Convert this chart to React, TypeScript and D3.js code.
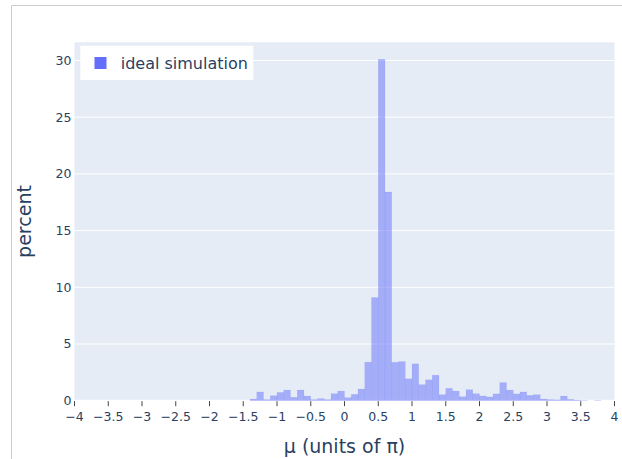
import * as d3 from 'd3';

// histogram bins (width 0.1), left edge in units of pi
const binStart = [
  -1.4, -1.3, -1.2, -1.1, -1.0, -0.9, -0.8, -0.7, -0.6, -0.5, -0.4, -0.3, -0.2, -0.1,
  0.0, 0.1, 0.2, 0.3, 0.4, 0.5, 0.6, 0.7, 0.8, 0.9, 1.0, 1.1, 1.2, 1.3, 1.4,
  1.5, 1.6, 1.7, 1.8, 1.9, 2.0, 2.1, 2.2, 2.3, 2.4, 2.5, 2.6, 2.7, 2.8, 2.9,
  3.0, 3.1, 3.2, 3.3, 3.4, 3.5, 3.6, 3.7,
];
const percent = [
  0.15, 0.77, 0.10, 0.44, 0.73, 0.94, 0.30, 0.94, 0.41, 0.10, 0.18, 0.10, 0.62, 0.85,
  0.27, 0.56, 1.03, 3.40, 9.10, 30.10, 18.40, 3.39, 3.45, 1.93, 3.25, 1.41, 1.84, 2.25, 0.53,
  1.09, 0.85, 0.35, 0.97, 0.62, 0.42, 0.33, 0.60, 1.60, 0.94, 0.60, 0.77, 0.47, 0.53, 0.15,
  0.10, 0.08, 0.41, 0.12, 0.06, 0.03, 0, 0.03,
];
const binWidth = 0.1;

const xTicks = [-4, -3.5, -3, -2.5, -2, -1.5, -1, -0.5, 0, 0.5, 1, 1.5, 2, 2.5, 3, 3.5, 4];
const yTicks = [0, 5, 10, 15, 20, 25, 30];
const seriesName = 'ideal simulation';

const W = 622, H = 459;
const m = { l: 74.5, r: 614.5, t: 42.3, b: 400.7 };
const barColor = '#636efa';
const textColor = '#2a3f5f';
const font = '"DejaVu Sans", Verdana, sans-serif';

const fmt = (v: number) => (v < 0 ? '\u2212' + Math.abs(v) : String(v));

export default function App() {
  const x = d3.scaleLinear().domain([-4, 4]).range([m.l, m.r]);
  const y = d3.scaleLinear().domain([0, 31.6]).range([m.b, m.t]);

  return (
    <svg width={W} height={H} viewBox={`0 0 ${W} ${H}`}
      style={{ position: 'fixed', left: 0, top: 0, display: 'block', background: '#fff' }}>
      {/* outer frame */}
      <line x1={11.5} x2={11.5} y1={5.5} y2={H} stroke="#cccccc" strokeWidth={1} />
      <line x1={11.5} x2={W} y1={5.5} y2={5.5} stroke="#cccccc" strokeWidth={1} />

      {/* plot background */}
      <rect x={m.l} y={m.t} width={m.r - m.l} height={m.b - m.t} fill="#e5ecf6" />

      {/* grid */}
      {yTicks.filter(v => v > 0).map(v => (
        <line key={v} x1={m.l} x2={m.r} y1={y(v)} y2={y(v)} stroke="#fff" strokeWidth={1} />
      ))}
      <line x1={m.l} x2={m.r} y1={y(0)} y2={y(0)} stroke="#fff" strokeWidth={2} />

      {/* bars */}
      {binStart.map((s, i) => (
        percent[i] > 0 ? (
          <rect key={i} x={x(s)} width={x(s + binWidth) - x(s)} y={y(percent[i])}
            height={y(0) - y(percent[i])} fill={barColor} fillOpacity={0.5}
            stroke={barColor} strokeOpacity={0.15} strokeWidth={0.5} />
        ) : null
      ))}

      {/* x ticks */}
      {xTicks.map(v => (
        <g key={v}>
          <line x1={x(v)} x2={x(v)} y1={m.b + 0.5} y2={m.b + 5.5} stroke="#444" strokeWidth={1} />
          <text x={x(v)} y={m.b + 20.5} textAnchor="middle" fontFamily={font} fontSize={12.5}
            fill={textColor}>{fmt(v)}</text>
        </g>
      ))}

      {/* y tick labels */}
      {yTicks.map(v => (
        <text key={v} x={m.l - 3} y={y(v)} dy="0.36em" textAnchor="end" fontFamily={font}
          fontSize={12.5} fill={textColor}>{v}</text>
      ))}

      {/* axis titles */}
      <text x={(m.l + m.r) / 2} y={453} textAnchor="middle" fontFamily={font} fontSize={19}
        fill={textColor}>μ (units of π)</text>
      <text transform={`translate(31,${(m.t + m.b) / 2}) rotate(-90)`} textAnchor="middle"
        fontFamily={font} fontSize={19} fill={textColor}>percent</text>

      {/* legend */}
      <rect x={80.3} y={45.7} width={173} height={34.3} fill="#fff" />
      <rect x={94.5} y={57} width={12} height={12} fill={barColor} />
      <text x={120.7} y={69} fontFamily={font} fontSize={16} fill={textColor}>{seriesName}</text>
    </svg>
  );
}
